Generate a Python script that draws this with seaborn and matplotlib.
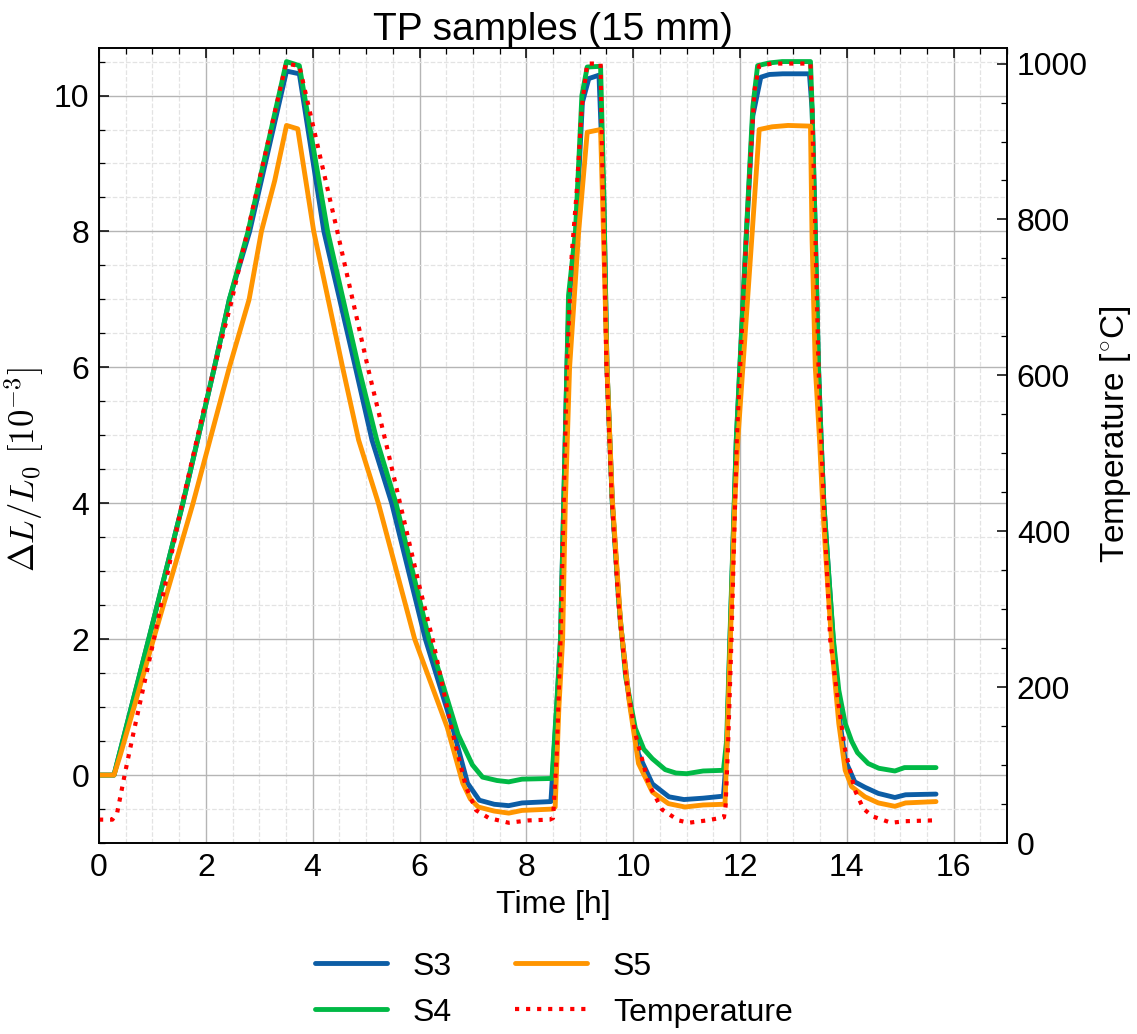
import matplotlib
matplotlib.use("Agg")
import matplotlib.pyplot as plt
from matplotlib.ticker import MultipleLocator
import seaborn as sns

# ---------------- data ----------------
t_s3 = [0.0, 0.28, 0.93, 1.57, 2.16, 2.44, 2.82, 3.51, 3.75, 4.21, 4.80, 5.11, 5.48, 6.11, 6.62, 6.90, 7.12, 7.40, 7.67, 7.92, 8.46,
        8.57, 8.64, 8.70, 8.76, 8.80, 8.93, 9.05, 9.17, 9.36, 9.45, 9.51, 9.61, 9.76, 9.92, 10.10, 10.36, 10.67, 10.95, 11.31, 11.69,
        11.75, 11.81, 11.87, 11.93, 12.12, 12.24, 12.39, 12.55, 12.80, 13.30, 13.35, 13.41, 13.47, 13.52, 13.57, 13.66, 13.75, 13.85,
        13.97, 14.15, 14.34, 14.59, 14.90, 15.10, 15.67]
s3 = [0.0, 0.0, 2.0, 4.0, 6.0, 7.0, 8.0, 10.36, 10.32, 8.0, 6.0, 4.93, 4.0, 2.0, 0.7, -0.12, -0.37, -0.43, -0.45, -0.41, -0.39,
      1.0, 2.0, 4.0, 6.0, 7.0, 8.0, 9.9, 10.25, 10.30, 8.5, 6.0, 4.0, 2.26, 1.14, 0.31, -0.13, -0.32, -0.36, -0.34, -0.31,
      0.3, 1.9, 3.4, 4.9, 7.95, 9.7, 10.27, 10.31, 10.32, 10.32, 9.8, 8.0, 6.0, 4.93, 4.0, 2.97, 1.95, 0.91,
      0.22, -0.1, -0.18, -0.27, -0.33, -0.29, -0.28]

t_s4 = [0.0, 0.28, 0.93, 1.57, 2.16, 2.44, 2.79, 3.51, 3.75, 4.28, 4.86, 5.20, 5.56, 6.18, 6.72, 6.99, 7.18, 7.45, 7.67, 7.92, 8.48,
        8.57, 8.64, 8.70, 8.76, 8.79, 8.92, 9.04, 9.14, 9.39, 9.45, 9.51, 9.61, 9.73, 9.86, 10.04, 10.20, 10.36, 10.60, 10.80, 11.00,
        11.31, 11.69, 11.75, 11.81, 11.87, 11.93, 12.12, 12.24, 12.33, 12.55, 12.79, 13.32, 13.35, 13.41, 13.47, 13.52, 13.57, 13.66,
        13.75, 13.85, 13.97, 14.09, 14.20, 14.40, 14.60, 14.90, 15.08, 15.67]
s4 = [0.0, 0.0, 2.0, 4.0, 6.0, 7.0, 8.0, 10.5, 10.44, 8.0, 6.0, 4.93, 4.0, 2.0, 0.6, 0.15, -0.03, -0.08, -0.10, -0.06, -0.05,
      1.06, 2.0, 4.0, 6.0, 7.06, 8.0, 10.0, 10.42, 10.43, 8.56, 6.0, 4.0, 2.56, 1.44, 0.69, 0.38, 0.24, 0.08, 0.03, 0.02,
      0.06, 0.07, 0.51, 1.99, 3.46, 4.93, 8.0, 9.83, 10.44, 10.48, 10.5, 10.5, 9.83, 8.0, 6.0, 4.93, 4.0, 2.97,
      1.99, 1.25, 0.76, 0.5, 0.33, 0.17, 0.1, 0.06, 0.11, 0.11]

t_s5 = [0.0, 0.28, 0.40, 1.02, 1.76, 2.44, 2.81, 3.04, 3.29, 3.51, 3.72, 4.02, 4.56, 4.86, 5.23, 5.91, 6.52, 6.81, 6.95, 7.10, 7.40,
        7.67, 7.92, 8.50, 8.54, 8.61, 8.68, 8.73, 8.81, 8.98, 9.14, 9.39, 9.45, 9.51, 9.61, 9.77, 9.93, 10.10, 10.36, 10.66, 10.97,
        11.31, 11.69, 11.72, 11.78, 11.84, 11.90, 11.96, 12.23, 12.36, 12.60, 12.90, 13.32, 13.35, 13.41, 13.49, 13.56, 13.65, 13.73,
        13.85, 13.97, 14.09, 14.34, 14.59, 14.90, 15.10, 15.67]
s5 = [0.0, 0.0, 0.3, 2.0, 4.0, 6.0, 7.0, 8.0, 8.75, 9.56, 9.51, 8.0, 6.0, 4.93, 4.0, 2.0, 0.7, -0.12, -0.35, -0.47, -0.53,
      -0.56, -0.52, -0.50, -0.47, 1.0, 2.0, 4.0, 6.0, 8.0, 9.46, 9.5, 7.81, 6.0, 4.06, 2.19, 1.06, 0.17, -0.25, -0.42, -0.47,
      -0.44, -0.43, -0.43, 1.0, 2.47, 3.95, 4.93, 8.0, 9.5, 9.54, 9.56, 9.55, 7.87, 6.0, 4.93, 3.8, 2.7, 1.8,
      0.76, 0.07, -0.17, -0.32, -0.41, -0.46, -0.41, -0.39]

t_temp = [0.0, 0.25, 0.34, 0.49, 0.65, 1.02, 1.54, 2.00, 2.47, 3.50, 3.75, 4.46, 5.03, 5.39, 6.00, 6.25, 6.62, 6.87, 7.06, 7.30,
          7.67, 8.04, 8.44, 8.50, 8.57, 8.64, 8.70, 8.76, 8.85, 8.94, 9.04, 9.14, 9.39, 9.42, 9.50, 9.60, 9.72, 9.86, 10.04, 10.29,
          10.54, 10.85, 11.04, 11.38, 11.70, 11.73, 11.78, 11.84, 11.89, 11.94, 12.12, 12.27, 12.36, 12.60, 13.32, 13.35, 13.41,
          13.47, 13.52, 13.60, 13.69, 13.85, 13.97, 14.15, 14.31, 14.49, 14.83, 15.10, 15.60]
temp = [30, 30, 39, 91, 143, 259, 431, 568, 692, 1000, 997, 785, 611, 508, 329, 260, 141, 72, 42, 32,
        26, 29, 30, 32, 115, 261, 437, 611, 755, 833, 945, 1000, 1000, 880, 611, 441, 311, 213, 140, 76,
        43, 29, 26, 29, 33, 47, 132, 260, 388, 517, 782, 965, 997, 1000, 1000, 944, 785,
        611, 518, 388, 260, 175, 119, 68, 44, 34, 26, 28, 29]

x_ticks = [0, 2, 4, 6, 8, 10, 12, 14, 16]
left_ticks = [0, 2, 4, 6, 8, 10]
right_ticks = [0, 200, 400, 600, 800, 1000]

# ---------------- style ----------------
sns.set_style("white")
plt.rcParams.update({
    "font.family": ["Liberation Sans", "DejaVu Sans"],
    "mathtext.fontset": "cm",
    "font.size": 23,
    "text.color": "black",
    "axes.labelcolor": "black",
    "axes.edgecolor": "black",
    "axes.linewidth": 1.2,
    "xtick.direction": "in",
    "ytick.direction": "in",
    "xtick.color": "black",
    "ytick.color": "black",
    "xtick.labelcolor": "black",
    "ytick.labelcolor": "black",
})

c_s3, c_s4, c_s5 = "#0C5DA5", "#00B945", "#FF9500"

fig = plt.figure(figsize=(11.37, 10.34), dpi=100)
ax = fig.add_axes([0.0871, 0.1847, 0.7986, 0.7689])
ax2 = ax.twinx()

lw = 3.5
sns.lineplot(x=t_s3, y=s3, ax=ax, color=c_s3, lw=lw, label="S3", estimator=None, sort=False)
sns.lineplot(x=t_s4, y=s4, ax=ax, color=c_s4, lw=lw, label="S4", estimator=None, sort=False)
sns.lineplot(x=t_s5, y=s5, ax=ax, color=c_s5, lw=lw, label="S5", estimator=None, sort=False)
sns.lineplot(x=t_temp, y=temp, ax=ax2, color="#FF0000", lw=3, linestyle=":", label="Temperature",
             estimator=None, sort=False)

ax.set_xlim(0, 17)
ax.set_ylim(-1.0, 10.7)
ax2.set_ylim(0, 1020)

ax.set_xticks(x_ticks)
ax.set_yticks(left_ticks)
ax2.set_yticks(right_ticks)
ax.xaxis.set_minor_locator(MultipleLocator(0.5))
ax.yaxis.set_minor_locator(MultipleLocator(0.5))
ax2.yaxis.set_minor_locator(MultipleLocator(50))

ax.tick_params(which="major", top=True, right=False, length=7, width=1.1, labelsize=23, pad=7)
ax.tick_params(which="minor", top=True, right=False, length=4, width=0.9)
ax2.tick_params(which="major", length=7, width=1.1, labelsize=23, pad=7)
ax2.tick_params(which="minor", length=4, width=0.9)

ax.grid(which="major", color="#b5b5b5", lw=1.0, ls="-")
ax.grid(which="minor", color="#e3e3e3", lw=0.9, ls="--")
ax.set_axisbelow(True)

ax.set_xlabel("Time [h]", fontsize=23, labelpad=5)
ax.set_ylabel(r"$\Delta L/L_0\ [10^{-3}]$", fontsize=25)
ax.yaxis.set_label_coords(-0.058, 0.47)
ax2.set_ylabel(r"Temperature [$^{\circ}$C]", fontsize=24)
ax2.yaxis.set_label_coords(1.1, 0.515)
ax.set_title("TP samples (15 mm)", fontsize=28, pad=6)

for a in (ax, ax2):
    for s in a.spines.values():
        s.set_color("black")
        s.set_linewidth(1.2)

h1, l1 = ax.get_legend_handles_labels()
h2, l2 = ax2.get_legend_handles_labels()
for a in (ax, ax2):
    if a.get_legend() is not None:
        a.get_legend().remove()

fig.legend(h1 + h2, l1 + l2, loc="center", bbox_to_anchor=(0.487, 0.043), ncol=2, frameon=False,
           fontsize=23, handlelength=2.25, handletextpad=0.8, columnspacing=2.0, labelspacing=0.5)

fig.savefig("out.png", dpi=100, facecolor="white")
